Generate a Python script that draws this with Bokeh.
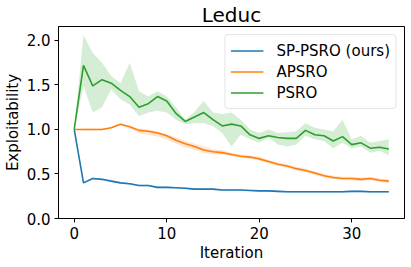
from bokeh.plotting import figure
from bokeh.embed import file_html
from bokeh.resources import INLINE
from bokeh.models import Range1d, FixedTicker, Legend
from bokeh.core.properties import value

iterations = list(range(35))

sp_psro = [1.00, 0.40, 0.45, 0.44, 0.42, 0.40, 0.39, 0.37, 0.37, 0.35,
           0.35, 0.345, 0.34, 0.33, 0.33, 0.33, 0.32, 0.32, 0.32, 0.315,
           0.31, 0.31, 0.305, 0.30, 0.30, 0.30, 0.30, 0.30, 0.30, 0.30,
           0.305, 0.305, 0.30, 0.30, 0.30]
sp_psro_lo = [1.00, 0.39, 0.44, 0.43, 0.41, 0.39, 0.38, 0.36, 0.36, 0.34,
              0.34, 0.335, 0.33, 0.32, 0.32, 0.32, 0.31, 0.31, 0.31, 0.305,
              0.30, 0.30, 0.295, 0.29, 0.29, 0.29, 0.29, 0.29, 0.29, 0.29,
              0.295, 0.295, 0.29, 0.29, 0.29]
sp_psro_hi = [1.00, 0.41, 0.46, 0.45, 0.43, 0.41, 0.40, 0.38, 0.38, 0.36,
              0.36, 0.355, 0.35, 0.34, 0.34, 0.34, 0.33, 0.33, 0.33, 0.325,
              0.32, 0.32, 0.315, 0.31, 0.31, 0.31, 0.31, 0.31, 0.31, 0.31,
              0.315, 0.315, 0.31, 0.31, 0.31]

apsro = [1.00, 1.00, 1.00, 1.00, 1.02, 1.06, 1.03, 0.99, 0.98, 0.96,
         0.93, 0.88, 0.84, 0.81, 0.77, 0.75, 0.74, 0.72, 0.70, 0.69,
         0.67, 0.64, 0.61, 0.59, 0.56, 0.54, 0.51, 0.48, 0.46, 0.45,
         0.45, 0.44, 0.45, 0.43, 0.42]
apsro_lo = [1.00, 0.99, 0.99, 0.99, 1.01, 1.05, 1.01, 0.96, 0.94, 0.92,
            0.89, 0.84, 0.80, 0.77, 0.74, 0.72, 0.72, 0.70, 0.68, 0.67,
            0.65, 0.62, 0.59, 0.57, 0.54, 0.52, 0.49, 0.46, 0.44, 0.43,
            0.43, 0.42, 0.43, 0.41, 0.40]
apsro_hi = [1.00, 1.01, 1.01, 1.01, 1.03, 1.07, 1.04, 1.01, 1.00, 0.98,
            0.95, 0.91, 0.87, 0.84, 0.81, 0.78, 0.77, 0.74, 0.72, 0.71,
            0.69, 0.66, 0.63, 0.61, 0.58, 0.56, 0.53, 0.50, 0.48, 0.47,
            0.47, 0.46, 0.47, 0.45, 0.44]

psro = [1.00, 1.72, 1.49, 1.56, 1.52, 1.44, 1.37, 1.25, 1.29, 1.37,
        1.32, 1.18, 1.09, 1.14, 1.19, 1.11, 1.04, 1.06, 1.04, 0.94,
        0.90, 0.93, 0.91, 0.90, 0.90, 0.99, 0.94, 0.93, 0.87, 0.92,
        0.83, 0.85, 0.79, 0.80, 0.78]
psro_lo = [1.00, 1.49, 1.19, 1.25, 1.45, 1.34, 1.28, 1.15, 1.19, 1.21,
           1.19, 1.11, 1.06, 1.07, 1.07, 1.04, 0.96, 0.81, 0.94, 0.89,
           0.85, 0.91, 0.83, 0.81, 0.83, 0.93, 0.89, 0.87, 0.79, 0.85,
           0.79, 0.81, 0.74, 0.76, 0.71]
psro_hi = [1.00, 2.06, 1.86, 1.75, 1.60, 1.52, 1.75, 1.43, 1.37, 1.43,
           1.37, 1.25, 1.11, 1.20, 1.32, 1.19, 1.17, 1.19, 1.11, 1.00,
           0.96, 1.00, 0.96, 0.97, 0.98, 1.07, 1.02, 1.00, 0.98, 1.11,
           0.89, 0.93, 0.85, 0.87, 0.89]

x_ticks = [0, 10, 20, 30]
y_ticks = [0.0, 0.5, 1.0, 1.5, 2.0]

BLUE, ORANGE, GREEN = "#1f77b4", "#ff7f0e", "#2ca02c"

p = figure(frame_width=346, frame_height=192, output_backend="svg",
           toolbar_location=None,
           x_range=Range1d(-1.7, 35.7), y_range=Range1d(0, 2.157),
           min_border_left=51, min_border_right=1, min_border_bottom=38,
           min_border_top=0)

p.title.text = "Leduc"
p.title.align = "center"
p.title.text_font = "DejaVu Sans"
p.title.text_font_size = "20px"
p.title.text_font_style = "normal"
p.title.text_color = "black"
p.title.offset = 0
p.title.standoff = 0

for lo, hi, c in [(sp_psro_lo, sp_psro_hi, BLUE), (apsro_lo, apsro_hi, ORANGE),
                  (psro_lo, psro_hi, GREEN)]:
    p.varea(x=iterations, y1=lo, y2=hi, fill_color=c, fill_alpha=0.2)

r1 = p.line(iterations, sp_psro, line_color=BLUE, line_width=1.6)
r2 = p.line(iterations, apsro, line_color=ORANGE, line_width=1.6)
r3 = p.line(iterations, psro, line_color=GREEN, line_width=1.6)

legend = Legend(items=[("SP-PSRO (ours)", [r1]), ("APSRO", [r2]), ("PSRO", [r3])],
                location="top_right")
legend.label_text_font = "DejaVu Sans"
legend.label_text_font_size = "15px"
legend.label_text_color = "black"
legend.border_line_color = "#cccccc"
legend.border_line_width = 1
legend.background_fill_alpha = 0.8
legend.margin = 8
legend.padding = 5
legend.spacing = 0
legend.glyph_width = 33
legend.glyph_height = 21
legend.label_height = 21
legend.label_standoff = 13
if "border_radius" in Legend.properties():
    legend.border_radius = 4
p.add_layout(legend)

p.xgrid.visible = False
p.ygrid.visible = False
p.outline_line_color = "black"
p.outline_line_width = 1
p.outline_line_alpha = 1

p.xaxis.ticker = FixedTicker(ticks=x_ticks)
p.yaxis.ticker = FixedTicker(ticks=y_ticks)
p.yaxis.major_label_overrides = {t: f"{t:.1f}" for t in y_ticks}
p.xaxis.axis_label = "Iteration"
p.yaxis.axis_label = "Exploitability"
for ax in (p.xaxis[0], p.yaxis[0]):
    ax.axis_label_text_font = "DejaVu Sans"
    ax.axis_label_text_font_size = "15px"
    ax.axis_label_text_font_style = "normal"
    ax.axis_label_text_color = "black"
    ax.major_label_text_font = "DejaVu Sans"
    ax.major_label_text_font_size = "15px"
    ax.major_label_text_color = "black"
    ax.major_tick_in = 0
    ax.major_tick_out = 4
    ax.minor_tick_line_color = None
    ax.axis_line_color = "black"
    ax.major_tick_line_color = "black"
p.xaxis.major_label_standoff = 4
p.xaxis.axis_label_standoff = 2
p.yaxis.major_label_standoff = 4
p.yaxis.axis_label_standoff = 2

open("out.html", "w").write(file_html(p, INLINE))
